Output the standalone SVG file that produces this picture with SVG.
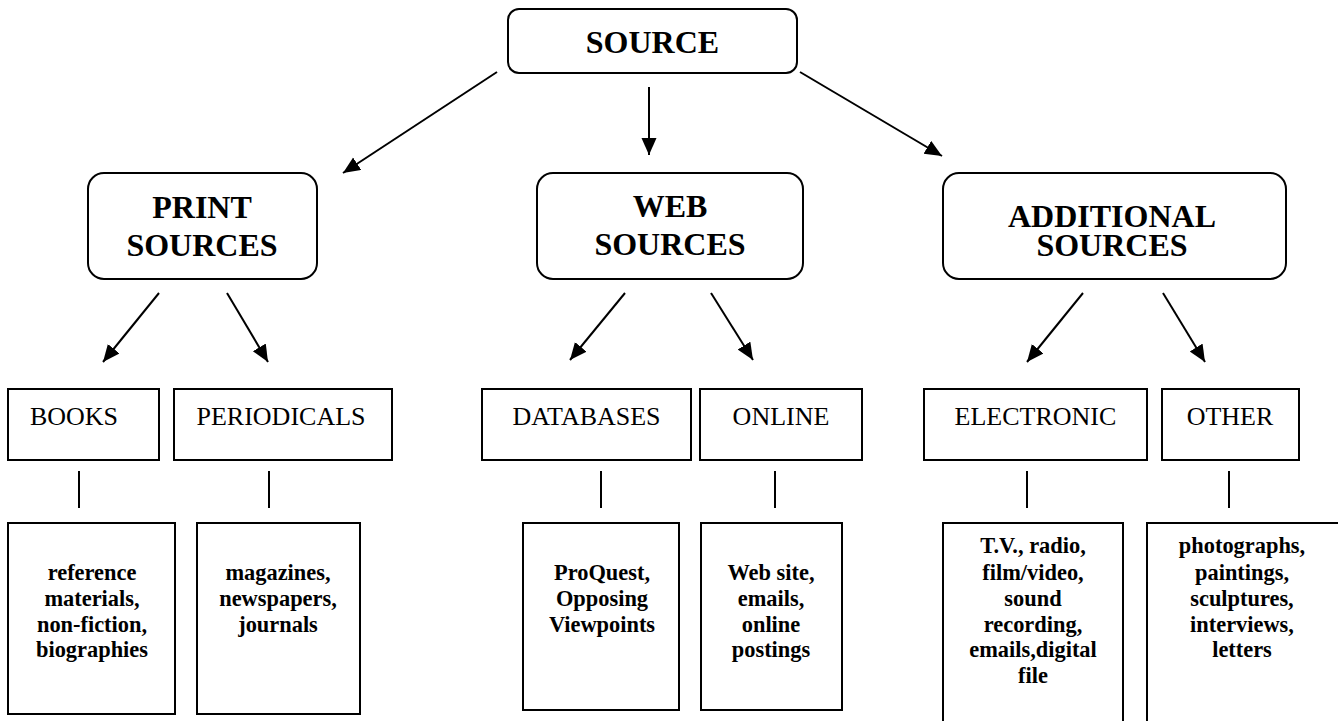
<svg xmlns="http://www.w3.org/2000/svg" width="1338" height="721" viewBox="0 0 1338 721">
<style>
.box{fill:#fff;stroke:#000;stroke-width:2}
.ln{stroke:#000;stroke-width:2;fill:none}
.arr{stroke:#000;stroke-width:2;fill:none;marker-end:url(#ah)}
.t1{font-family:"Liberation Serif","Times New Roman",serif;font-weight:bold;font-size:32px;text-anchor:middle;fill:#000}
.t2{font-family:"Liberation Serif","Times New Roman",serif;font-size:26px;text-anchor:middle;fill:#000}
.t3{font-family:"Liberation Serif","Times New Roman",serif;font-weight:bold;font-size:22.4px;text-anchor:middle;fill:#000}
</style>
<defs>
<marker id="ah" markerUnits="userSpaceOnUse" markerWidth="18" markerHeight="16" refX="17" refY="7.5" orient="auto">
<path d="M0,0 L17,7.5 L0,15 z" fill="#000"/>
</marker>
</defs>
<rect width="1338" height="721" fill="#fff"/>
<g id="connectors">
<line class="arr" x1="497" y1="72" x2="343" y2="173"/>
<line class="arr" x1="649" y1="87" x2="649" y2="155"/>
<line class="arr" x1="800" y1="72" x2="942" y2="156"/>
<line class="arr" x1="159" y1="293" x2="103" y2="362"/>
<line class="arr" x1="227" y1="293" x2="268" y2="362"/>
<line class="arr" x1="625" y1="293" x2="570" y2="360"/>
<line class="arr" x1="711" y1="293" x2="753" y2="360"/>
<line class="arr" x1="1083" y1="293" x2="1027" y2="362"/>
<line class="arr" x1="1163" y1="293" x2="1205" y2="362"/>
<line class="ln" x1="79" y1="471" x2="79" y2="508"/>
<line class="ln" x1="269" y1="471" x2="269" y2="508"/>
<line class="ln" x1="601" y1="471" x2="601" y2="508"/>
<line class="ln" x1="775" y1="471" x2="775" y2="508"/>
<line class="ln" x1="1027" y1="471" x2="1027" y2="508"/>
<line class="ln" x1="1229" y1="471" x2="1229" y2="508"/>
</g>
<g id="source">
<rect class="box" x="508" y="9" width="289" height="64" rx="11"/>
<text class="t1" x="652.5" y="53">SOURCE</text>
</g>
<g id="print">
<rect class="box" x="88" y="173" width="229" height="106" rx="16"/>
<text class="t1" x="202" y="218">PRINT</text>
<text class="t1" x="202" y="256">SOURCES</text>
</g>
<g id="web">
<rect class="box" x="537" y="173" width="266" height="106" rx="16"/>
<text class="t1" x="670" y="217">WEB</text>
<text class="t1" x="670" y="255">SOURCES</text>
</g>
<g id="additional">
<rect class="box" x="943" y="173" width="343" height="106" rx="16"/>
<text class="t1" x="1112" y="227">ADDITIONAL</text>
<text class="t1" x="1112" y="256">SOURCES</text>
</g>
<g id="books">
<rect class="box" x="8" y="389" width="151" height="71"/>
<text class="t2" x="74" y="425">BOOKS</text>
</g>
<g id="periodicals">
<rect class="box" x="174" y="389" width="218" height="71"/>
<text class="t2" x="281" y="425">PERIODICALS</text>
</g>
<g id="databases">
<rect class="box" x="482" y="389" width="209" height="71"/>
<text class="t2" x="586.5" y="425">DATABASES</text>
</g>
<g id="online">
<rect class="box" x="700" y="389" width="162" height="71"/>
<text class="t2" x="781" y="425">ONLINE</text>
</g>
<g id="electronic">
<rect class="box" x="924" y="389" width="223" height="71"/>
<text class="t2" x="1035.5" y="425">ELECTRONIC</text>
</g>
<g id="other">
<rect class="box" x="1162" y="389" width="137" height="71"/>
<text class="t2" x="1230" y="425">OTHER</text>
</g>
<g id="books-items">
<rect class="box" x="8" y="523" width="167" height="191"/>
<text class="t3" x="92" y="580">reference</text>
<text class="t3" x="92" y="606">materials,</text>
<text class="t3" x="92" y="631.5">non-fiction,</text>
<text class="t3" x="92" y="657">biographies</text>
</g>
<g id="periodicals-items">
<rect class="box" x="197" y="523" width="163" height="191"/>
<text class="t3" x="278" y="580">magazines,</text>
<text class="t3" x="278" y="606">newspapers,</text>
<text class="t3" x="278" y="631.5">journals</text>
</g>
<g id="databases-items">
<rect class="box" x="523" y="523" width="156" height="187"/>
<text class="t3" x="602" y="580">ProQuest,</text>
<text class="t3" x="602" y="606">Opposing</text>
<text class="t3" x="602" y="631.5">Viewpoints</text>
</g>
<g id="online-items">
<rect class="box" x="701" y="523" width="141" height="187"/>
<text class="t3" x="771" y="580">Web site,</text>
<text class="t3" x="771" y="606">emails,</text>
<text class="t3" x="771" y="631.5">online</text>
<text class="t3" x="771" y="657">postings</text>
</g>
<g id="electronic-items">
<rect class="box" x="943" y="523" width="180" height="210"/>
<text class="t3" x="1033" y="553">T.V., radio,</text>
<text class="t3" x="1033" y="580">film/video,</text>
<text class="t3" x="1033" y="606">sound</text>
<text class="t3" x="1033" y="631.5">recording,</text>
<text class="t3" x="1033" y="657">emails,digital</text>
<text class="t3" x="1033" y="683">file</text>
</g>
<g id="other-items">
<rect class="box" x="1147" y="523" width="194" height="210"/>
<text class="t3" x="1242" y="553">photographs,</text>
<text class="t3" x="1242" y="580">paintings,</text>
<text class="t3" x="1242" y="606">sculptures,</text>
<text class="t3" x="1242" y="631.5">interviews,</text>
<text class="t3" x="1242" y="657">letters</text>
</g>
</svg>
